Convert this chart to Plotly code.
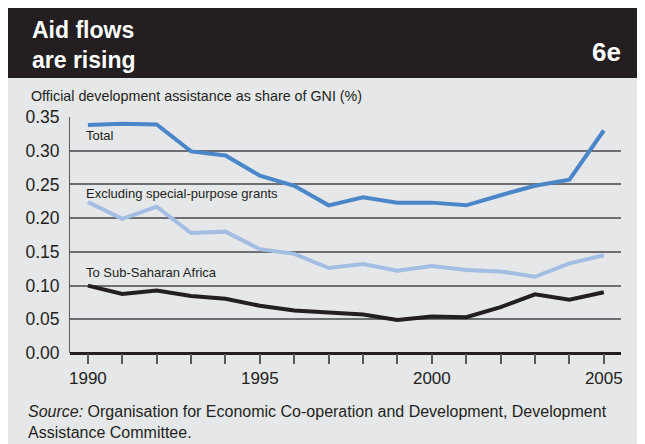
import plotly.graph_objects as go

years = list(range(1990, 2006))
total = [0.338, 0.340, 0.339, 0.299, 0.293, 0.263, 0.248, 0.219, 0.231, 0.223,
         0.223, 0.219, 0.234, 0.248, 0.257, 0.330]
excluding = [0.224, 0.199, 0.217, 0.178, 0.180, 0.154, 0.147, 0.126, 0.132, 0.122,
             0.129, 0.123, 0.121, 0.113, 0.133, 0.145]
ssa = [0.100, 0.0875, 0.0925, 0.0845, 0.0805, 0.070, 0.063, 0.060, 0.057, 0.049,
       0.054, 0.053, 0.068, 0.087, 0.079, 0.090]

series_names = ["Total", "Excluding special-purpose grants", "To Sub-Saharan Africa"]
series_values = [total, excluding, ssa]
series_colors = ["#4a86c8", "#a3bde3", "#231f20"]
label_y = [0.322, 0.237, 0.119]
y_ticks = [0.00, 0.05, 0.10, 0.15, 0.20, 0.25, 0.30, 0.35]
x_tick_labels = {1990: "1990", 1995: "1995", 2000: "2000", 2005: "2005"}

W, H = 645, 444
BG = "#e6e7e8"
DARK = "#231f20"
FONT = "Liberation Sans, Arial, sans-serif"

# plot area in page pixels (page has an 8px body offset)
PL, PR, PT, PB = 70, 621, 117, 353


def px(x):
    return (x - PL) / (PR - PL)


def py(y):
    return (PB - y) / (PB - PT)


fig = go.Figure()
for name, vals, col in zip(series_names, series_values, series_colors):
    fig.add_trace(go.Scatter(x=years, y=vals, mode="lines", name=name,
                             line=dict(color=col, width=4), showlegend=False))

for name, yv in zip(series_names, label_y):
    fig.add_annotation(x=1989.88, y=yv, xref="x", yref="y", text=name, showarrow=False,
                       xanchor="left", yanchor="middle",
                       font=dict(family=FONT, size=13, color=DARK))

shapes = [
    dict(type="rect", xref="paper", yref="paper", x0=px(8), x1=px(643),
         y0=py(460), y1=py(78), fillcolor=BG, line=dict(width=0), layer="below"),
    dict(type="rect", xref="paper", yref="paper", x0=px(8), x1=px(660),
         y0=py(78), y1=py(8), fillcolor=DARK, line=dict(width=0), layer="below"),
    dict(type="line", xref="paper", yref="y", x0=0, x1=1, y0=0.20, y1=0.20,
         line=dict(color=DARK, width=1.5), layer="below"),
]

fig.add_annotation(xref="paper", yref="paper", x=px(30), y=py(15), xanchor="left", yanchor="top",
                   text="<b>Aid flows<br>are rising</b>", showarrow=False, align="left",
                   font=dict(family=FONT, size=23, color="white"))
fig.add_annotation(xref="paper", yref="paper", x=px(623), y=py(52), xanchor="right", yanchor="middle",
                   text="<b>6e</b>", showarrow=False,
                   font=dict(family=FONT, size=26, color="white"))
fig.add_annotation(xref="paper", yref="paper", x=px(29), y=py(96), xanchor="left", yanchor="middle",
                   text="Official development assistance as share of GNI (%)", showarrow=False,
                   font=dict(family=FONT, size=14.3, color=DARK))
fig.add_annotation(xref="paper", yref="paper", x=px(26), y=py(401), xanchor="left", yanchor="top",
                   text="<i>Source:</i> Organisation for Economic Co-operation and Development, Development<br>Assistance Committee.",
                   showarrow=False, align="left",
                   font=dict(family=FONT, size=16, color=DARK))

fig.update_layout(
    width=W, height=H,
    margin=dict(l=PL - 8, r=W - (PR - 8), t=PT - 8, b=H - (PB - 8)),
    paper_bgcolor="white", plot_bgcolor=BG,
    shapes=shapes,
    xaxis=dict(range=[1989.48, 2005.5], tickmode="array", tickvals=years,
               ticktext=[x_tick_labels.get(y, "") for y in years],
               ticks="outside", ticklen=10, tickwidth=1.5, tickcolor="#58595b",
               showgrid=False, zeroline=False, showline=False,
               tickfont=dict(family=FONT, size=17, color=DARK)),
    yaxis=dict(range=[0, 0.35], tickmode="array", tickvals=y_ticks,
               ticktext=[f"{v:.2f}" for v in y_ticks],
               showgrid=True, gridcolor="#6d6e71", gridwidth=1.5,
               zeroline=True, zerolinecolor=DARK, zerolinewidth=3,
               showline=True, linecolor="#58595b", linewidth=1,
               ticks="", ticklabelstandoff=6,
               tickfont=dict(family=FONT, size=17.5, color=DARK)),
)

fig.write_html("out.html")
